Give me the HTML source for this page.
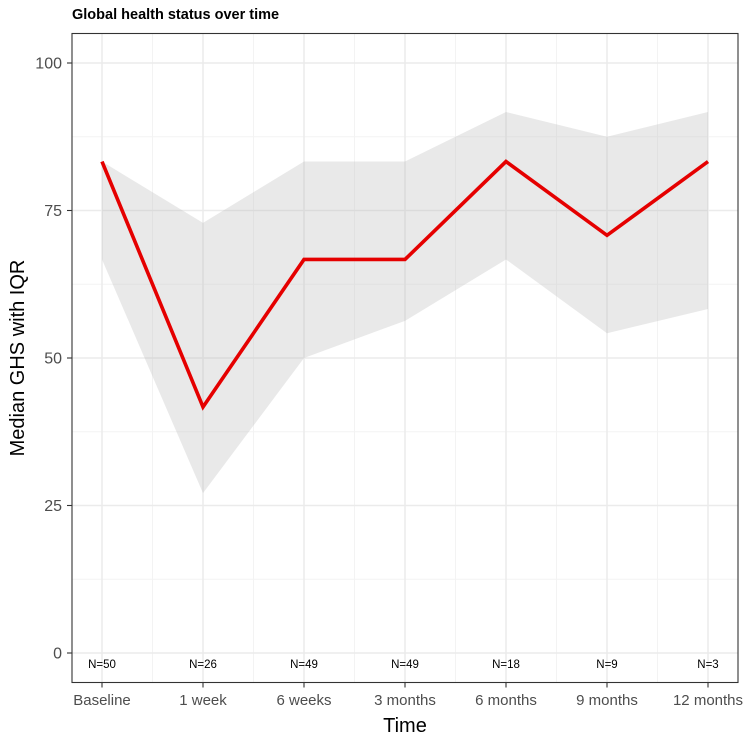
<!DOCTYPE html>
<html><head><meta charset="utf-8"><style>
body{margin:0;background:#fff;}
svg{display:block;font-family:"Liberation Sans",Arial,sans-serif;}
</style></head><body>
<svg id="chart" width="750" height="737" viewBox="0 0 750 737" xmlns="http://www.w3.org/2000/svg">
<text x="72" y="19" font-size="14.5" font-weight="bold" fill="#000">Global health status over time</text>
<g id="grid"></g>
<g id="ribbon"></g>
<g id="line"></g>
<g id="labels"></g>
<rect x="72" y="33.5" width="666" height="649" fill="none" stroke="#333" stroke-width="1.1"/>
<g id="axes"></g>
<text transform="translate(24,358) rotate(-90)" text-anchor="middle" font-size="20" fill="#000">Median GHS with IQR</text>
<text x="405" y="732" text-anchor="middle" font-size="20" fill="#000">Time</text>
</svg>
<script>
const categories=["Baseline","1 week","6 weeks","3 months","6 months","9 months","12 months"];
const medians=[83.3,41.7,66.7,66.7,83.3,70.8,83.3];
const q1=[66.7,27.1,50,56.3,66.7,54.2,58.3];
const q3=[83.3,72.9,83.3,83.3,91.7,87.5,91.7];
const nLabels=["N=50","N=26","N=49","N=49","N=18","N=9","N=3"];
const yTicks=[0,25,50,75,100];
const NS="http://www.w3.org/2000/svg";
const xs=i=>102+i*101;
const ys=v=>653-v*5.9;
function mk(tag,attrs,parent){const e=document.createElementNS(NS,tag);for(const k in attrs)e.setAttribute(k,attrs[k]);parent.appendChild(e);return e;}
const grid=document.getElementById('grid'),rib=document.getElementById('ribbon'),ln=document.getElementById('line'),lab=document.getElementById('labels'),ax=document.getElementById('axes');
for(let v=12.5;v<=100;v+=25){const l=mk('line',{x1:72,x2:738,y1:ys(v),y2:ys(v),stroke:'#f3f3f3','stroke-width':1},grid);

}
for(let i=0;i<categories.length-1;i++){const l=mk('line',{x1:xs(i+0.5),x2:xs(i+0.5),y1:33.5,y2:682.5,stroke:'#f3f3f3','stroke-width':1},grid);

}
yTicks.forEach(v=>{const l=mk('line',{x1:72,x2:738,y1:ys(v),y2:ys(v),stroke:'#ebebeb','stroke-width':1.5},grid);


const t=mk('line',{x1:67,x2:72,y1:ys(v),y2:ys(v),stroke:'#333','stroke-width':1.1},ax);


const tx=mk('text',{x:62,y:ys(v)+5.5,'text-anchor':'end','font-size':16,fill:'#4d4d4d'},ax);tx.textContent=v;

});
categories.forEach((c,i)=>{const l=mk('line',{x1:xs(i),x2:xs(i),y1:33.5,y2:682.5,stroke:'#ebebeb','stroke-width':1.5},grid);


const t=mk('line',{x1:xs(i),x2:xs(i),y1:682.5,y2:687.5,stroke:'#333','stroke-width':1.1},ax);


const tx=mk('text',{x:xs(i),y:705,'text-anchor':'middle','font-size':15,fill:'#4d4d4d'},ax);tx.textContent=c;


const n=mk('text',{x:xs(i),y:668,'text-anchor':'middle','font-size':11.5,fill:'#000'},lab);n.textContent=nLabels[i];

});
let pts=categories.map((c,i)=>xs(i)+','+ys(q3[i]));
for(let i=categories.length-1;i>=0;i--)pts.push(xs(i)+','+ys(q1[i]));
const r=mk('polygon',{points:pts.join(' '),fill:'#bdbdbd','fill-opacity':0.33},rib);


const p=mk('polyline',{points:categories.map((c,i)=>xs(i)+','+ys(medians[i])).join(' '),fill:'none',stroke:'#e50000','stroke-width':3.6,'stroke-linejoin':'miter'},ln);


</script>
</body></html>
